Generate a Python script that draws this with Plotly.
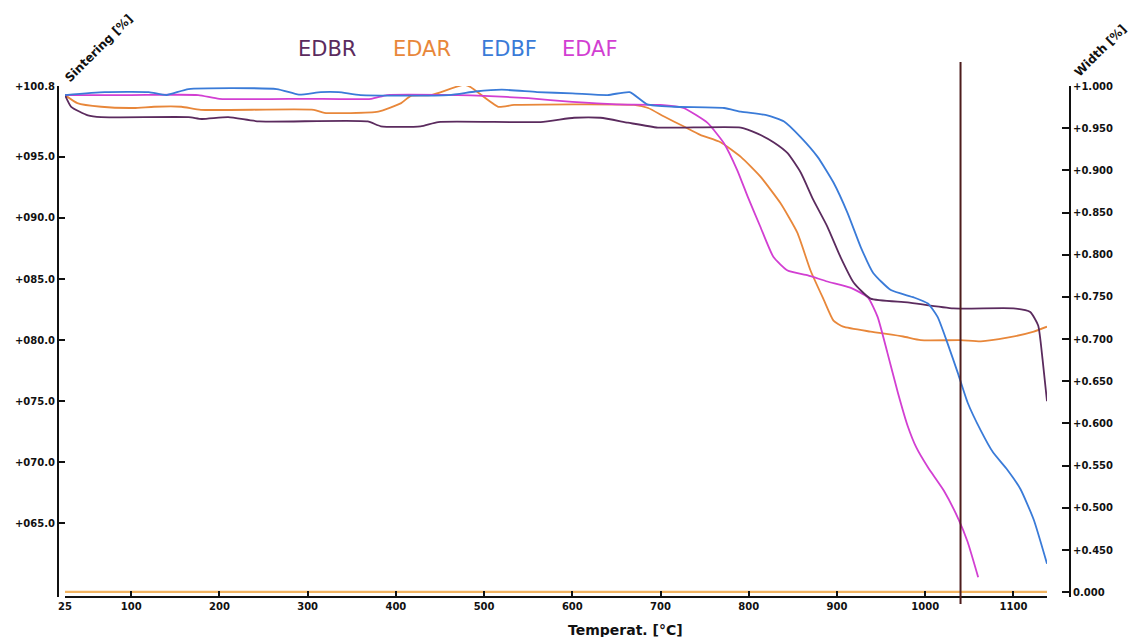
import plotly.graph_objects as go

# ---------------- data ----------------
series_names = ["EDBR", "EDAR", "EDBF", "EDAF"]
series_colors = ["#5b2b5e", "#e8873a", "#3a7bd8", "#d23fd2"]

edbr_temp = [25, 32, 51, 66, 165, 180, 210, 245, 368, 383, 428, 448, 564, 602, 632, 663, 697,
             791, 810, 828, 844, 859, 873, 889, 904, 919, 938, 980, 1032, 1100, 1119, 1128, 1133, 1138]
edbr_val = [100.06, 99.1, 98.4, 98.25, 98.25, 98.1, 98.25, 97.9, 97.9, 97.5, 97.5, 97.85, 97.85, 98.2, 98.2, 97.8, 97.4,
            97.4, 96.9, 96.2, 95.3, 93.7, 91.5, 89.3, 86.8, 84.7, 83.4, 83.1, 82.6, 82.6, 82.3, 81.2, 78.4, 75.0]

edar_temp = [25, 39, 66, 103, 126, 157, 179, 307, 319, 380, 406, 417, 440, 477, 485, 516, 534, 670, 686, 704,
             726, 745, 768, 791, 813, 836, 855, 870, 885, 896, 907, 938, 975, 995, 1040, 1063, 1093, 1123, 1138]
edar_val = [100.06, 99.4, 99.1, 99.0, 99.1, 99.1, 98.85, 98.85, 98.6, 98.7, 99.4, 100.0, 100.06, 100.9, 100.7, 99.1, 99.25, 99.25, 99.0, 98.3,
            97.5, 96.8, 96.2, 95.0, 93.4, 91.2, 88.8, 85.7, 83.3, 81.6, 81.1, 80.7, 80.3, 80.0, 80.0, 79.9, 80.2, 80.7, 81.1]

edbf_temp = [25, 70, 120, 140, 165, 265, 290, 315, 335, 360, 460, 490, 520, 560, 600, 640, 665, 685, 715,
             772, 791, 821, 840, 859, 878, 896, 912, 927, 941, 961, 987, 1003, 1014, 1025, 1037, 1048, 1063,
             1077, 1093, 1108, 1123, 1138]
edbf_val = [100.06, 100.3, 100.3, 100.06, 100.55, 100.55, 100.1, 100.3, 100.3, 100.06, 100.06, 100.35, 100.5, 100.3, 100.2, 100.06, 100.3, 99.3, 99.1,
            99.0, 98.7, 98.4, 97.9, 96.6, 95.0, 92.9, 90.4, 87.6, 85.5, 84.1, 83.5, 83.0, 81.9, 79.8, 77.3, 74.9, 72.6,
            70.8, 69.4, 67.8, 65.3, 61.7]

edaf_temp = [25, 100, 176, 200, 300, 372, 390, 470, 500, 550, 600, 650, 700, 726, 753, 772, 787, 799, 813,
             828, 844, 867, 889, 915, 935, 946, 957, 969, 980, 990, 1003, 1021, 1038, 1048, 1060]
edaf_val = [100.06, 100.06, 100.06, 99.75, 99.75, 99.75, 100.06, 100.06, 100.0, 99.8, 99.5, 99.3, 99.25, 99.0, 97.8, 96.1, 93.9, 91.7, 89.3,
            86.8, 85.7, 85.3, 84.8, 84.3, 83.5, 81.9, 79.0, 75.7, 73.0, 71.2, 69.6, 67.7, 65.3, 63.5, 60.6]

baseline_temp = [25, 1138]
baseline_val = [59.4, 59.4]

cursor_temp = 1040

x_range = [25, 1138]
x_ticks = [25, 100, 200, 300, 400, 500, 600, 700, 800, 900, 1000, 1100]
x_ticktext = ["25", "100", "200", "300", "400", "500", "600", "700", "800", "900", "1000", "1100"]

y_range = [58.98, 100.8]
y_ticks = [100.8, 95, 90, 85, 80, 75, 70, 65]
y_ticktext = ["+100.8", "+095.0", "+090.0", "+085.0", "+080.0", "+075.0", "+070.0", "+065.0"]

y2_range = [0.3943, 1.0]
y2_ticks = [1.0, 0.95, 0.9, 0.85, 0.8, 0.75, 0.7, 0.65, 0.6, 0.55, 0.5, 0.45, 0.4]
y2_ticktext = ["+1.000", "+0.950", "+0.900", "+0.850", "+0.800", "+0.750", "+0.700", "+0.650",
               "+0.600", "+0.550", "+0.500", "+0.450", "0.000"]

# ---------------- figure ----------------
OFF = 8  # page body margin
W, H = 1136 - OFF, 637 - OFF
ML = 58 - OFF
MR = W - (1070 - OFF)
MT = 86 - OFF
MB = H - (597 - OFF)
PW, PH = W - ML - MR, H - MT - MB


def px_x(px):
    return (px - OFF - ML) / PW


def px_y(py):
    return (H - MB - (py - OFF)) / PH


fig = go.Figure()

fig.add_trace(go.Scatter(x=baseline_temp, y=baseline_val, mode="lines",
                         line=dict(color="#f2b461", width=2.2), showlegend=False, hoverinfo="skip"))

all_data = [(edbr_temp, edbr_val), (edar_temp, edar_val), (edbf_temp, edbf_val), (edaf_temp, edaf_val)]
draw_order = [1, 3, 0, 2]
for i in draw_order:
    t, v = all_data[i]
    fig.add_trace(go.Scatter(x=t, y=v, mode="lines", name=series_names[i],
                             line=dict(color=series_colors[i], width=1.8, shape="spline", smoothing=0.5),
                             showlegend=False))

# dummy trace for right axis
fig.add_trace(go.Scatter(x=[None], y=[None], yaxis="y2", showlegend=False, hoverinfo="skip"))

tickfont = dict(family="DejaVu Sans", size=10, color="#111111", weight="bold")

fig.update_layout(
    width=W, height=H,
    margin=dict(l=ML, r=MR, t=MT, b=MB, autoexpand=False),
    paper_bgcolor="white", plot_bgcolor="white",
    showlegend=False,
    xaxis=dict(domain=[px_x(65), px_x(1047)], range=x_range, anchor="free", position=0,
               tickmode="array", tickvals=x_ticks, ticktext=x_ticktext,
               ticks="inside", ticklen=5, tickwidth=1.5, tickcolor="#111",
               showline=True, linecolor="#111", linewidth=2, showgrid=False, zeroline=False,
               tickfont=tickfont),
    yaxis=dict(domain=[0, 1], range=y_range, anchor="free", position=0,
               tickmode="array", tickvals=y_ticks, ticktext=y_ticktext,
               ticks="inside", ticklen=6, tickwidth=2, tickcolor="#111",
               showline=True, linecolor="#111", linewidth=2, showgrid=False, zeroline=False,
               tickfont=tickfont),
    yaxis2=dict(domain=[0, 1], range=y2_range, anchor="free", position=1, overlaying="y", side="right",
                tickmode="array", tickvals=y2_ticks, ticktext=y2_ticktext,
                ticks="inside", ticklen=7, tickwidth=2, tickcolor="#111",
                showline=True, linecolor="#111", linewidth=2, showgrid=False, zeroline=False,
                tickfont=tickfont),
)

# cursor line
fig.add_shape(type="line", xref="x", yref="paper", x0=cursor_temp, x1=cursor_temp,
              y0=px_y(604), y1=px_y(62), line=dict(color="#4d1c1c", width=2))

# legend as coloured text
legend_x = [327, 422, 509, 590]
for name, col, lx in zip(series_names, series_colors, legend_x):
    fig.add_annotation(x=px_x(lx), y=px_y(49), xref="paper", yref="paper", text=name,
                       xanchor="center", yanchor="middle",
                       showarrow=False, font=dict(family="DejaVu Sans", size=21, color=col))

# axis titles
fig.add_annotation(x=px_x(99), y=px_y(48), xref="paper", yref="paper", text="Sintering [%]",
                   textangle=-45, showarrow=False, xanchor="center", yanchor="middle",
                   font=dict(family="DejaVu Sans", size=12, color="#111", weight="bold"))
fig.add_annotation(x=px_x(1100), y=px_y(51), xref="paper", yref="paper", text="Width [%]",
                   textangle=-45, showarrow=False, xanchor="center", yanchor="middle",
                   font=dict(family="DejaVu Sans", size=12, color="#111", weight="bold"))
fig.add_annotation(x=px_x(625), y=px_y(630), xref="paper", yref="paper", text="Temperat. [°C]",
                   showarrow=False, xanchor="center", yanchor="middle",
                   font=dict(family="DejaVu Sans", size=14, color="#111", weight="bold"))

fig.write_html("out.html")
